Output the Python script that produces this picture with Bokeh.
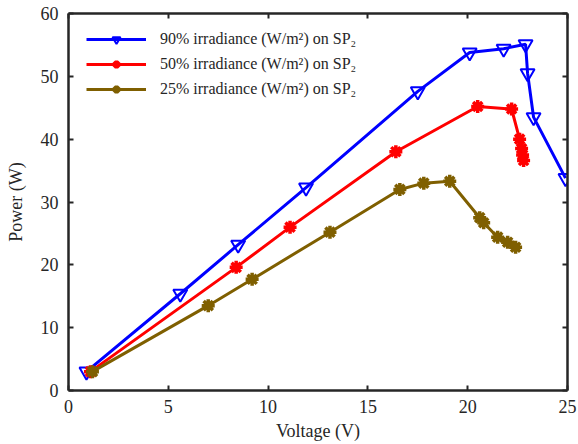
from bokeh.plotting import figure
from bokeh.models import Range1d, LinearAxis, Legend, LegendItem, FixedTicker
from bokeh.embed import file_html
from bokeh.resources import INLINE

# Data
v90 = [0.9, 5.6, 8.5, 11.9, 17.5, 20.1, 21.8, 22.9, 23.0, 23.3, 24.9]
p90 = [3.0, 15.4, 23.2, 32.3, 47.6, 53.8, 54.4, 55.1, 50.5, 43.5, 33.8]
v50 = [1.1, 8.4, 11.1, 16.4, 20.5, 22.2, 22.6, 22.7, 22.75, 22.8]
p50 = [3.0, 19.6, 26.0, 38.0, 45.2, 44.8, 40.0, 38.5, 37.5, 36.6]
v25 = [1.2, 7.0, 9.2, 13.1, 16.6, 17.8, 19.1, 20.6, 20.8, 21.5, 22.0, 22.4]
p25 = [3.0, 13.5, 17.7, 25.2, 32.0, 33.0, 33.3, 27.5, 26.7, 24.4, 23.6, 22.8]

labels = ["90% irradiance (W/m\u00b2) on SP\u2082",
          "50% irradiance (W/m\u00b2) on SP\u2082",
          "25% irradiance (W/m\u00b2) on SP\u2082"]
xticks = [0, 5, 10, 15, 20, 25]
yticks = [0, 10, 20, 30, 40, 50, 60]

FONT = "Liberation Serif"
AX = "#262626"

p = figure(width=578, height=444, output_backend="svg", toolbar_location=None,
           x_range=Range1d(0, 25), y_range=Range1d(0, 60),
           min_border_left=68, min_border_right=11, min_border_top=13, min_border_bottom=54)
p.xgrid.visible = False
p.ygrid.visible = False
p.outline_line_color = None

def style_axis(ax, show_labels=True):
    ax.axis_line_color = AX
    ax.axis_line_width = 2.5
    ax.major_tick_in = 5
    ax.major_tick_out = 0
    ax.major_tick_line_color = AX
    ax.major_tick_line_width = 2
    ax.minor_tick_line_color = None
    ax.major_label_text_font = FONT
    if show_labels:
        ax.major_label_text_font_size = "18px"
        ax.major_label_text_color = AX
    else:
        ax.major_label_text_font_size = "1px"
        ax.major_label_text_color = None
    ax.axis_label_text_font = FONT
    ax.axis_label_text_font_size = "18px"
    ax.axis_label_text_font_style = "normal"
    ax.axis_label_text_color = AX

p.xaxis.ticker = FixedTicker(ticks=xticks)
p.yaxis.ticker = FixedTicker(ticks=yticks)
p.xaxis.axis_label = "Voltage (V)"
p.yaxis.axis_label = "Power (W)"
style_axis(p.xaxis[0])
style_axis(p.yaxis[0])
p.xaxis.major_label_standoff = 9
p.yaxis.major_label_standoff = 10
p.xaxis.axis_label_standoff = 5
p.yaxis.axis_label_standoff = 12

top = LinearAxis(ticker=FixedTicker(ticks=xticks))
right = LinearAxis(ticker=FixedTicker(ticks=yticks))
style_axis(top, False)
style_axis(right, False)
top.major_label_standoff = 0
right.major_label_standoff = 0
p.add_layout(top, "above")
p.add_layout(right, "right")

l90 = p.line(v90, p90, line_color="#0000ff", line_width=3)
m90 = p.scatter(v90, p90, marker="inverted_triangle", size=14, fill_color=None,
                line_color="#0000ff", line_width=2)
l50 = p.line(v50, p50, line_color="#ff0000", line_width=3)
m50 = p.scatter(v50, p50, marker="asterisk", size=13, line_color="#ff0000", line_width=3.5)
l25 = p.line(v25, p25, line_color="#7f5f00", line_width=3)
m25 = p.scatter(v25, p25, marker="asterisk", size=13, line_color="#7f5f00", line_width=3.5)

legend = Legend(items=[LegendItem(label=labels[0], renderers=[l90, m90]),
                       LegendItem(label=labels[1], renderers=[l50, m50]),
                       LegendItem(label=labels[2], renderers=[l25, m25])],
                location=(18, 291), margin=0, padding=0,
                glyph_width=60, glyph_height=20, label_height=20,
                label_standoff=14, spacing=5,
                label_text_font=FONT, label_text_font_size="16px",
                label_text_color=AX, border_line_color=None,
                background_fill_alpha=0)
p.add_layout(legend)

open("out.html", "w").write(file_html(p, INLINE))
